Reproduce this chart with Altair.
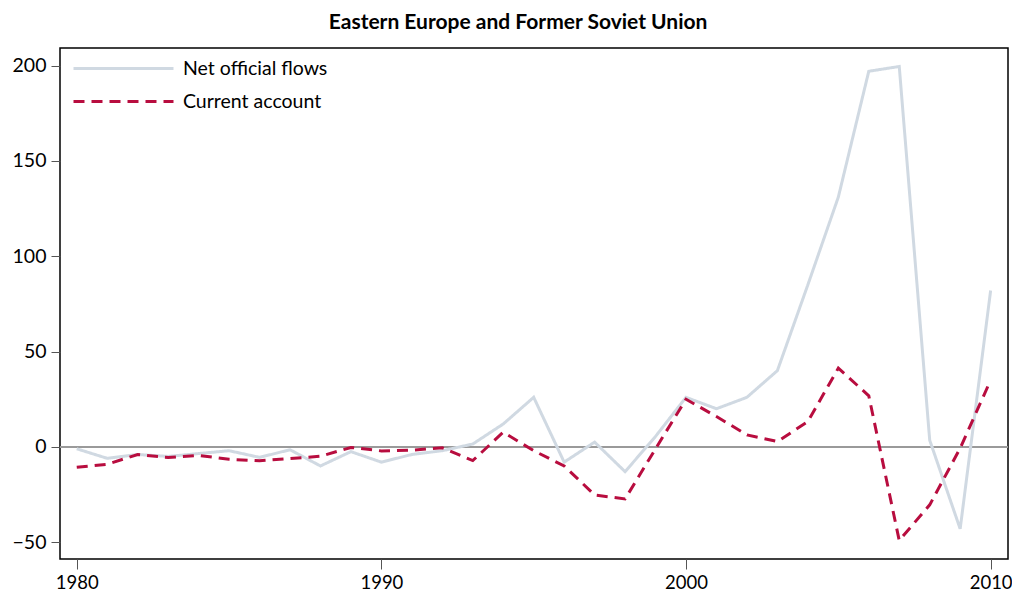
import altair as alt
import pandas as pd

years = list(range(1980, 2011))
net_official_flows = [-1, -6, -4, -5, -3.5, -2, -5.5, -1.5, -10, -2.5,
                      -8, -4, -2, 1.5, 12, 26, -8, 2.5, -13, 5.5,
                      26, 20, 26, 40, 85, 131, 197, 199.5, 3.5, -43, 82]
current_account = [-10.7, -9.1, -4, -5.6, -4.5, -6.5, -7.3, -6.1, -4.9, -0.3,
                   -2.1, -1.7, -0.5, -7.2, 7.7, -2, -10, -25.2, -27.3, -1,
                   25, 15.9, 6.3, 2.8, 13.3, 41.3, 26.8, -49.1, -30.4, -0.7, 35]
series_names = ["Net official flows", "Current account"]
x_ticks = [1980, 1990, 2000, 2010]
y_ticks = [-50, 0, 50, 100, 150, 200]

df = pd.DataFrame({"year": years,
                   series_names[0]: net_official_flows,
                   series_names[1]: current_account})
long = df.melt(id_vars="year", var_name="series", value_name="value")

FONT = "Lato"

x = alt.X("year:Q",
          scale=alt.Scale(domain=[1979.45, 2010.57], nice=False, zero=False),
          axis=alt.Axis(values=x_ticks, format="d", title=None, grid=False,
                        domain=False, tickSize=10, tickColor="#555555",
                        tickWidth=1, labelFontSize=18.5, labelPadding=4,
                        labelColor="#000000", labelFont=FONT))
y = alt.Y("value:Q",
          scale=alt.Scale(domain=[-58.8, 209.2], nice=False, zero=False),
          axis=alt.Axis(values=y_ticks, title=None, grid=False, domain=False,
                        tickSize=9, tickColor="#555555", tickWidth=1,
                        labelFontSize=19.5, labelPadding=5, labelColor="#000000",
                        labelFont=FONT))

legend_kw = dict(title=None, orient="none", legendX=12, legendY=4,
                 symbolType="stroke", symbolSize=10000, symbolStrokeWidth=3,
                 clipHeight=33, labelFontSize=19.5, labelFont=FONT,
                 labelColor="#000000", labelOffset=8, rowPadding=0, padding=0)

zero = alt.Chart(long).mark_rule(color="#9a9a9a", strokeWidth=1).encode(
    y=alt.datum(0)
)

lines = alt.Chart(long).mark_line(strokeWidth=3).encode(
    x=x,
    y=y,
    color=alt.Color("series:N",
                    scale=alt.Scale(domain=series_names,
                                    range=["#d0d9e2", "#b80d3f"]),
                    legend=alt.Legend(**legend_kw)),
    strokeDash=alt.StrokeDash("series:N",
                              scale=alt.Scale(domain=series_names,
                                              range=[[1, 0], [11, 7]]),
                              legend=alt.Legend(**legend_kw)),
)

chart = alt.layer(zero, lines).properties(
    width=948,
    height=511,
    title=alt.TitleParams("Eastern Europe and Former Soviet Union",
                          font=FONT, fontSize=21, fontWeight="bold",
                          anchor="middle", frame="bounds", offset=15, dx=6,
                          color="#000000"),
    autosize=alt.AutoSizeParams(type="none"),
    padding={"left": 52, "top": 40, "right": 4, "bottom": 34},
).configure_view(stroke="#000000", strokeWidth=1.5)

chart.save("out.html", embed_options={"renderer": "svg", "actions": False})
